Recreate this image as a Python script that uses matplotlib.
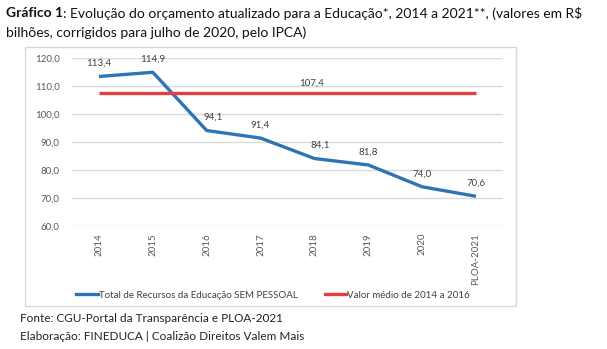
import matplotlib
matplotlib.use("Agg")
import matplotlib.pyplot as plt
from matplotlib.patches import Rectangle
from matplotlib.lines import Line2D
from matplotlib.ticker import FuncFormatter

anos = ["2014", "2015", "2016", "2017", "2018", "2019", "2020", "PLOA-2021"]
recursos = [113.4, 114.9, 94.1, 91.4, 84.1, 81.8, 74.0, 70.6]
media_2014_2016 = 107.4

plt.rcParams['font.family'] = ['Lato', 'DejaVu Sans']

def br(v):
    return ('%.1f' % v).replace('.', ',')

fig = plt.figure(figsize=(6.07, 3.49), dpi=100)
W, H = 607, 349

# moldura cinza do grafico
fig.patches.append(Rectangle((25 / W, 1 - 306 / H), (516 - 25) / W, (306 - 47) / H,
                             transform=fig.transFigure, fill=False,
                             edgecolor='#d9d9d9', linewidth=1))

ax = fig.add_axes([72 / W, 1 - 226 / H, (503 - 72) / W, (226 - 58) / H])
x = list(range(len(anos)))

ax.plot(x, recursos, color='#2e75b6', linewidth=2.4, solid_capstyle='butt')
ax.plot([x[0], x[-1]], [media_2014_2016] * 2, color='#e0403f', linewidth=2.4,
        solid_capstyle='butt')

dx = [0, 0, 5, 0, 4, 0, 0, 0]
for xi, v, d in zip(x, recursos, dx):
    ax.annotate(br(v), (xi, v), xytext=(d, 6), textcoords='offset points',
                ha='center', va='bottom', fontsize=7, color='#404040')
ax.annotate(br(media_2014_2016), (4, media_2014_2016),
            xytext=(-2, 4), textcoords='offset points', ha='center', va='bottom',
            fontsize=7, color='#404040')

ax.set_xlim(-0.5, len(anos) - 0.5)
ax.set_ylim(60, 120)
ax.set_yticks(range(60, 121, 10))
ax.yaxis.set_major_formatter(FuncFormatter(lambda v, p: br(v)))
ax.set_xticks(x)
ax.set_xticklabels(anos, rotation=90)
ax.tick_params(axis='both', length=0, labelsize=7, labelcolor='#595959')
ax.tick_params(axis='y', pad=9)
ax.tick_params(axis='x', pad=5)
ax.grid(axis='y', color='#d9d9d9', linewidth=1)
ax.set_axisbelow(True)
for s in ax.spines.values():
    s.set_visible(False)

# legenda
handles = [Line2D([], [], color='#2e75b6', linewidth=2.4),
           Line2D([], [], color='#e0403f', linewidth=2.4)]
fig.legend(handles, ["Total de Recursos da Educação SEM PESSOAL", "Valor médio de 2014 a 2016"],
           loc='center', bbox_to_anchor=(273 / W, 1 - 295 / H), ncol=2, frameon=False,
           fontsize=7, labelcolor='#404040', handlelength=2.2, handletextpad=0.1,
           columnspacing=2.8)

# titulo: parte em negrito seguida do texto normal
fs = 10
t1 = fig.text(6 / W, 1 - 13 / H, "Gráfico 1", fontsize=fs, fontweight='bold',
              color='#111111', va='center')
r = fig.canvas.get_renderer()
bb = t1.get_window_extent(renderer=r)
fig.text(bb.x1 / W, 1 - 13 / H,
         ": Evolução do orçamento atualizado para a Educação*, 2014 a 2021**, (valores em R$",
         fontsize=fs, color='#111111', va='center')
fig.text(6 / W, 1 - 33 / H, "bilhões, corrigidos para julho de 2020, pelo IPCA)",
         fontsize=fs, color='#111111', va='center')
fig.text(20 / W, 1 - 319 / H, "Fonte: CGU-Portal da Transparência e PLOA-2021",
         fontsize=8.5, color='#222222', va='center')
fig.text(20 / W, 1 - 336 / H, "Elaboração: FINEDUCA | Coalizão Direitos Valem Mais",
         fontsize=8.5, color='#222222', va='center')

fig.savefig("out.png", dpi=100)
